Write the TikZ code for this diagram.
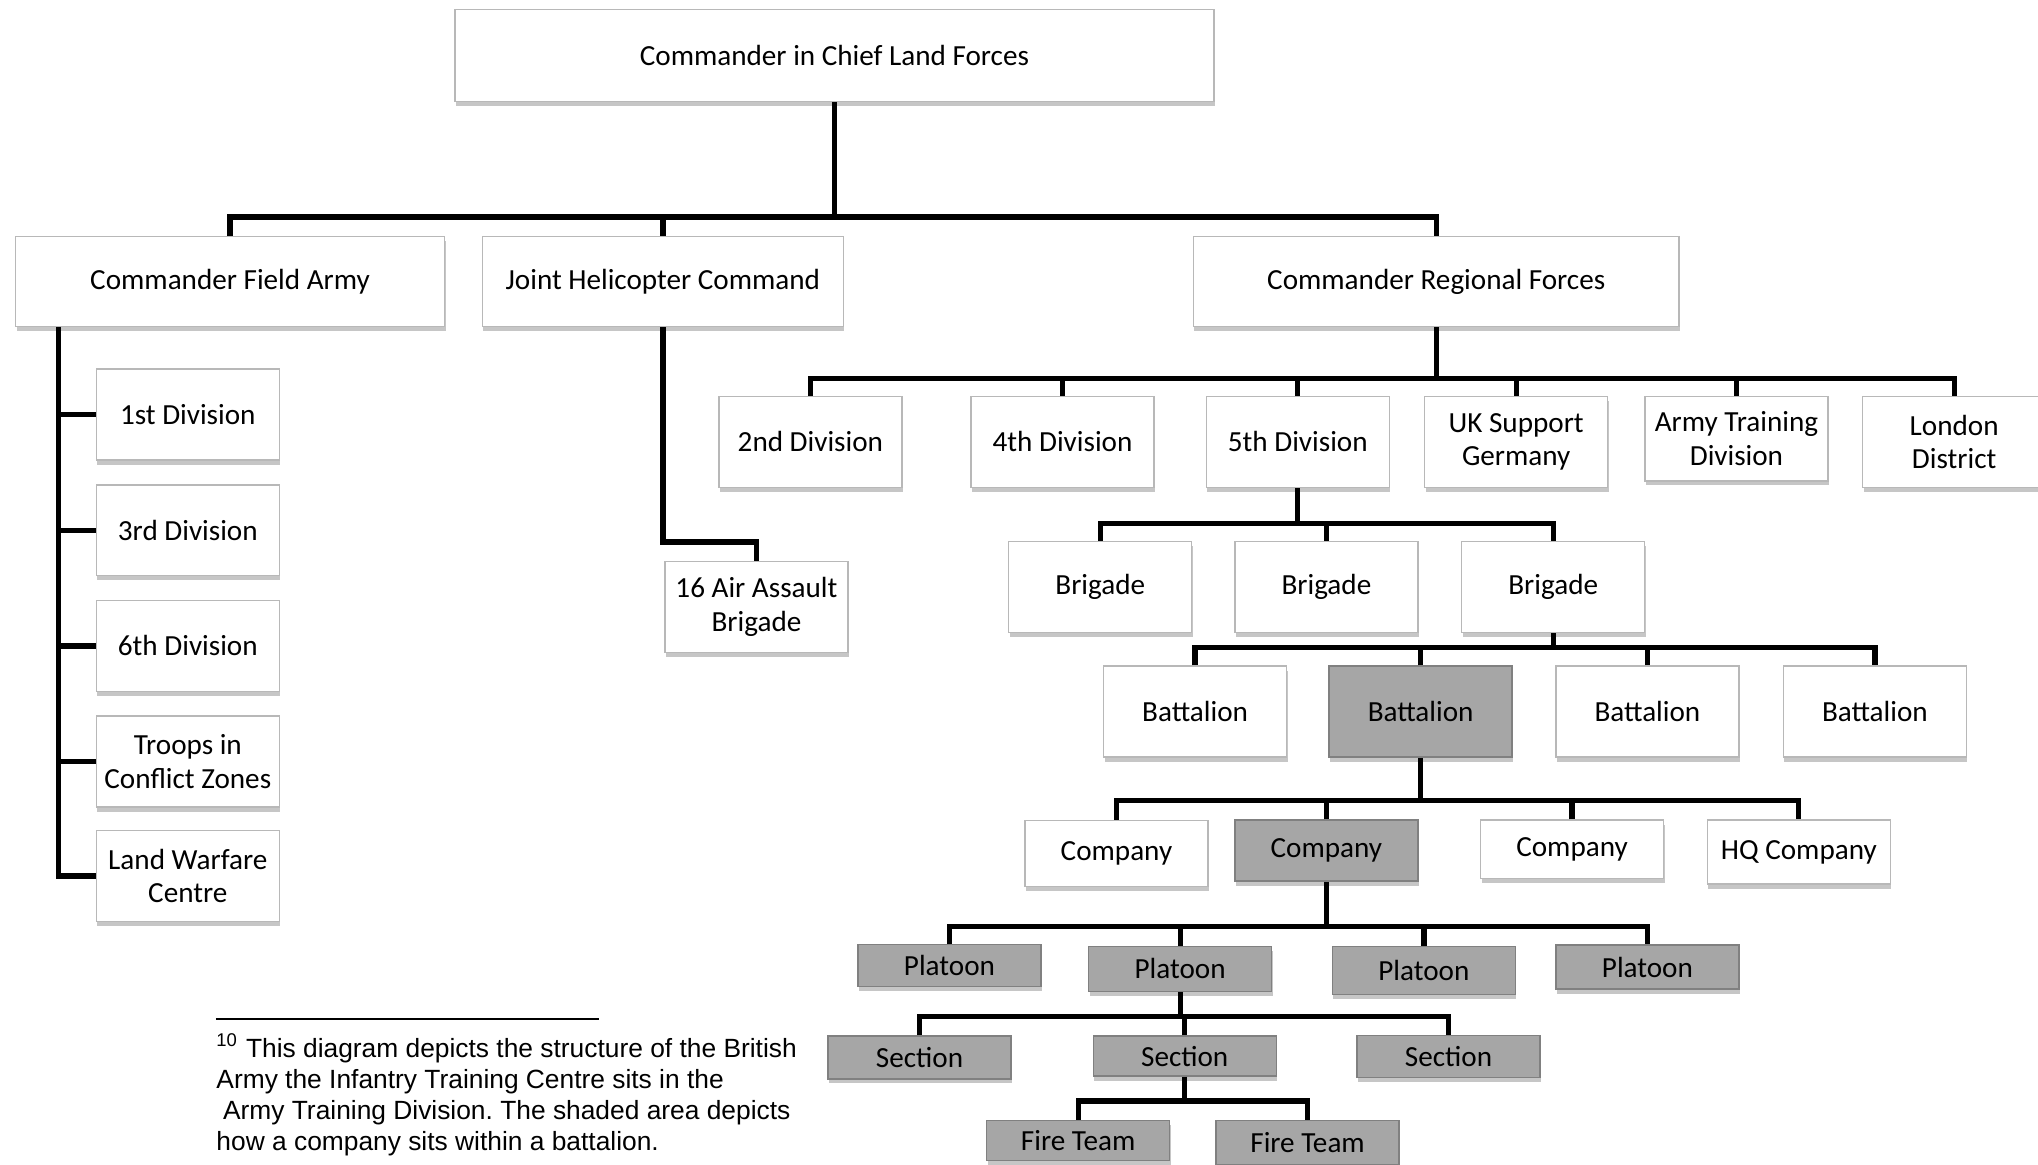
\documentclass[tikz,border=0pt]{standalone}
\usepackage{fontspec}
\setmainfont{Carlito}
\newfontfamily\notefont{Liberation Sans}
\usetikzlibrary{shadows}
\frenchspacing

\tikzset{
  box/.style={draw=black!28, fill=white, line width=0.4pt, align=center, inner sep=1pt,
    font=\fontsize{8.3}{9.6}\selectfont, minimum width=1.83cm, minimum height=0.91cm,
    drop shadow={shadow xshift=0.3pt, shadow yshift=-1.3pt, fill=black!50, opacity=0.45}},
  shaded/.style={box, fill=black!35, draw=black!50},
  conn/.style={line width=1.5pt, line join=miter},
}

\begin{document}
\begin{tikzpicture}[x=0.013cm, y=-0.013cm]
  \useasboundingbox (0,0) rectangle (1568,896);

  % Top
  \node[box, minimum width=7.59cm, minimum height=0.92cm] (cinc) at (642,42.5) {Commander in Chief Land Forces};

  % Commands
  \node[box, minimum width=4.29cm, minimum height=0.9cm] (cfa) at (177,216.5) {Commander Field Army};
  \node[box, minimum width=3.61cm, minimum height=0.9cm] (jhc) at (510,216.5) {Joint Helicopter Command};
  \node[box, minimum width=4.86cm, minimum height=0.9cm] (crf) at (1105,216.5) {Commander Regional Forces};

  % Field Army
  \node[box] (div1) at (144.5,319) {1st Division};
  \node[box] (div3) at (144.5,408) {3rd Division};
  \node[box] (div6) at (144.5,497) {6th Division};
  \node[box] (tcz) at (144.5,586) {Troops in\\Conflict Zones};
  \node[box] (lwc) at (144.5,674) {Land Warfare\\Centre};

  % Helicopter Command
  \node[box] (aab16) at (582,467) {16 Air Assault\\Brigade};

  % Regional Forces
  \node[box] (div2) at (623.5,340) {2nd Division};
  \node[box] (div4) at (817.5,340) {4th Division};
  \node[box] (div5) at (998.5,340) {5th Division};
  \node[box] (uksg) at (1166.5,340) {UK Support\\Germany};
  \node[box, minimum height=0.845cm] (atd) at (1336,337.5) {Army Training\\Division};
  \node[box] (ldn) at (1503.5,340) {London\\District};

  % Brigades
  \node[box] (bde1) at (846.5,451.5) {Brigade};
  \node[box] (bde2) at (1020.5,451.5) {Brigade};
  \node[box] (bde3) at (1195,451.5) {Brigade};

  % Battalions
  \node[box] (bn1) at (919.5,547.5) {Battalion};
  \node[shaded] (bn2) at (1093,547.5) {Battalion};
  \node[box] (bn3) at (1267.5,547.5) {Battalion};
  \node[box] (bn4) at (1442.5,547.5) {Battalion};

  % Companies
  \node[box, minimum height=0.66cm] (coy1) at (859,656.5) {Company};
  \node[shaded, minimum height=0.61cm] (coy2) at (1020.5,654.5) {Company};
  \node[box, minimum height=0.585cm] (coy3) at (1209.5,653.5) {Company};
  \node[box, minimum height=0.64cm] (hqcoy) at (1384,655.5) {HQ Company};

  % Platoons
  \node[shaded, minimum height=0.42cm] (pl1) at (730.5,743) {Platoon};
  \node[shaded, minimum height=0.455cm] (pl2) at (908,745.5) {Platoon};
  \node[shaded, minimum height=0.48cm] (pl3) at (1095.5,746.5) {Platoon};
  \node[shaded, minimum height=0.44cm] (pl4) at (1267.5,744) {Platoon};

  % Sections
  \node[shaded, minimum height=0.43cm] (sec1) at (707.5,813.5) {Section};
  \node[shaded, minimum height=0.4cm] (sec2) at (911.5,812.5) {Section};
  \node[shaded, minimum height=0.42cm] (sec3) at (1114.5,813) {Section};

  % Fire teams
  \node[shaded, minimum height=0.4cm] (ft1) at (829.5,877.5) {Fire Team};
  \node[shaded, minimum height=0.44cm] (ft2) at (1006,879) {Fire Team};

  % Connectors
  \coordinate (bar1) at (0,167);
  \draw[conn] (cinc.south) -- (cinc.south |- bar1);
  \draw[conn] (cfa.north) -- (cfa.north |- bar1) -- (crf.north |- bar1) -- (crf.north);
  \draw[conn] (jhc.north) -- (jhc.north |- bar1);

  \coordinate (cfaline) at (45,0);
  \draw[conn] (cfa.south -| cfaline) -- (lwc.west -| cfaline) -- (lwc.west);
  \foreach \n in {div1,div3,div6,tcz}
    \draw[conn] (\n.west -| cfaline) -- (\n.west);

  \coordinate (jhcbend) at (0,417);
  \draw[conn] (jhc.south) -- (jhc.south |- jhcbend) -| (aab16.north);

  \coordinate (bar2) at (0,291);
  \draw[conn] (crf.south) -- (crf.south |- bar2);
  \draw[conn] (div2.north) -- (div2.north |- bar2) -- (ldn.north |- bar2) -- (ldn.north);
  \foreach \n in {div4,div5,uksg,atd}
    \draw[conn] (\n.north) -- (\n.north |- bar2);

  \coordinate (bar3) at (0,403);
  \draw[conn] (div5.south) -- (div5.south |- bar3);
  \draw[conn] (bde1.north) -- (bde1.north |- bar3) -- (bde3.north |- bar3) -- (bde3.north);
  \draw[conn] (bde2.north) -- (bde2.north |- bar3);

  \coordinate (bar4) at (0,498);
  \draw[conn] (bde3.south) -- (bde3.south |- bar4);
  \draw[conn] (bn1.north) -- (bn1.north |- bar4) -- (bn4.north |- bar4) -- (bn4.north);
  \foreach \n in {bn2,bn3}
    \draw[conn] (\n.north) -- (\n.north |- bar4);

  \coordinate (bar5) at (0,616);
  \draw[conn] (bn2.south) -- (bn2.south |- bar5);
  \draw[conn] (coy1.north) -- (coy1.north |- bar5) -- (hqcoy.north |- bar5) -- (hqcoy.north);
  \foreach \n in {coy2,coy3}
    \draw[conn] (\n.north) -- (\n.north |- bar5);

  \coordinate (bar6) at (0,713);
  \draw[conn] (coy2.south) -- (coy2.south |- bar6);
  \draw[conn] (pl1.north) -- (pl1.north |- bar6) -- (pl4.north |- bar6) -- (pl4.north);
  \foreach \n in {pl2,pl3}
    \draw[conn] (\n.north) -- (\n.north |- bar6);

  \coordinate (bar7) at (0,782);
  \draw[conn] (pl2.south) -- (pl2.south |- bar7);
  \draw[conn] (sec1.north) -- (sec1.north |- bar7) -- (sec3.north |- bar7) -- (sec3.north);
  \draw[conn] (sec2.north) -- (sec2.north |- bar7);

  \coordinate (bar8) at (0,847);
  \draw[conn] (sec2.south) -- (sec2.south |- bar8);
  \draw[conn] (ft1.north) -- (ft1.north |- bar8) -- (ft2.north |- bar8) -- (ft2.north);

  % Footnote
  \draw[line width=0.6pt] (166,784) -- (461,784);
  \node[anchor=north west, inner sep=0pt, align=left, font=\notefont\fontsize{7.5}{8.86}\selectfont] (note) at (166,795)
    {\textsuperscript{10} This diagram depicts the structure of the British\\
     Army the Infantry Training Centre sits in the\\
     \hspace*{0.25em}Army Training Division. The shaded area depicts\\
     how a company sits within a battalion.};
\end{tikzpicture}
\end{document}
